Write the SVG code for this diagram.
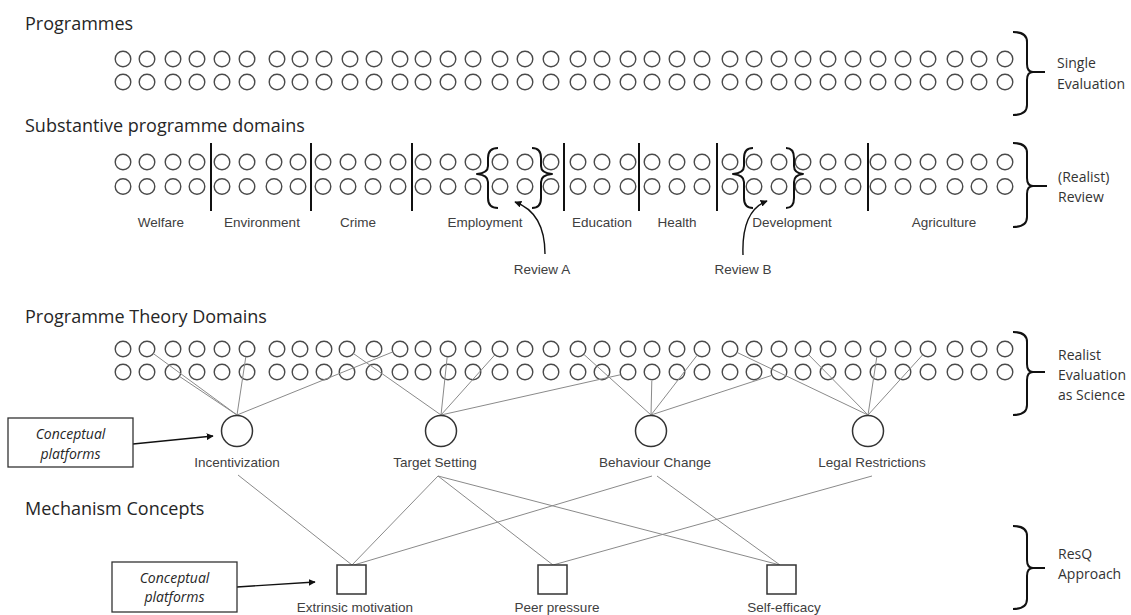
<svg xmlns="http://www.w3.org/2000/svg" xmlns:xlink="http://www.w3.org/1999/xlink" width="1131" height="615" viewBox="0 0 1131 615">
<style>
.bg{fill:#ffffff}
.c{fill:none;stroke:#4a4a4a;stroke-width:1.4}
.big{fill:#ffffff;stroke:#333333;stroke-width:1.5}
.sq{fill:#ffffff;stroke:#333333;stroke-width:1.5}
.div{stroke:#111111;stroke-width:2}
.br{fill:none;stroke:#111111;stroke-width:2;stroke-linejoin:round}
.ln{stroke:#8a8a8a;stroke-width:1;fill:none}
.arr{stroke:#111111;stroke-width:1.4;fill:none}
.title{font-family:"Open Sans","Noto Sans",sans-serif;font-size:18px;fill:#262626}
.side{font-family:"Open Sans","Noto Sans",sans-serif;font-size:14px;fill:#333333}
.lab{font-family:"Liberation Sans",Arial,sans-serif;font-size:13.5px;fill:#404040;text-anchor:middle}
.box{fill:#ffffff;stroke:#333333;stroke-width:1.3}
.boxt{font-family:"Open Sans","Noto Sans",sans-serif;font-size:14px;font-style:italic;fill:#262626;text-anchor:middle}
</style>
<defs>
<g id="p1"><circle class="c" cx="0" cy="0" r="7.8"/><circle class="c" cx="0" cy="23" r="7.8"/></g>
<g id="p2"><circle class="c" cx="0" cy="0" r="7.8"/><circle class="c" cx="0" cy="24.5" r="7.8"/></g>
<marker id="ah" viewBox="0 0 10 10" refX="9" refY="5" markerWidth="7" markerHeight="7" markerUnits="userSpaceOnUse" orient="auto"><path d="M0,0 L10,5 L0,10 z" fill="#111111"/></marker>
</defs>
<rect class="bg" x="0" y="0" width="1131" height="615"/>

<g id="titles">
<text class="title" x="25" y="30">Programmes</text>
<text class="title" x="25" y="132">Substantive programme domains</text>
<text class="title" x="25" y="323">Programme Theory Domains</text>
<text class="title" x="25" y="515">Mechanism Concepts</text>
</g>

<g id="programmes">
<use xlink:href="#p1" x="123" y="59"/><use xlink:href="#p1" x="147" y="59"/><use xlink:href="#p1" x="173" y="59"/><use xlink:href="#p1" x="197" y="59"/><use xlink:href="#p1" x="222" y="59"/><use xlink:href="#p1" x="247" y="59"/>
<use xlink:href="#p1" x="277" y="59"/><use xlink:href="#p1" x="300" y="59"/><use xlink:href="#p1" x="324" y="59"/><use xlink:href="#p1" x="350" y="59"/><use xlink:href="#p1" x="374" y="59"/><use xlink:href="#p1" x="400" y="59"/><use xlink:href="#p1" x="423" y="59"/><use xlink:href="#p1" x="448" y="59"/><use xlink:href="#p1" x="473" y="59"/>
<use xlink:href="#p1" x="500" y="59"/><use xlink:href="#p1" x="525" y="59"/><use xlink:href="#p1" x="551" y="59"/>
<use xlink:href="#p1" x="578" y="59"/><use xlink:href="#p1" x="602" y="59"/><use xlink:href="#p1" x="628" y="59"/><use xlink:href="#p1" x="652" y="59"/><use xlink:href="#p1" x="677" y="59"/><use xlink:href="#p1" x="702" y="59"/>
<use xlink:href="#p1" x="730" y="59"/><use xlink:href="#p1" x="754" y="59"/><use xlink:href="#p1" x="779" y="59"/><use xlink:href="#p1" x="803" y="59"/><use xlink:href="#p1" x="828" y="59"/><use xlink:href="#p1" x="853" y="59"/><use xlink:href="#p1" x="878" y="59"/><use xlink:href="#p1" x="903" y="59"/><use xlink:href="#p1" x="928" y="59"/>
<use xlink:href="#p1" x="955" y="59"/><use xlink:href="#p1" x="979" y="59"/><use xlink:href="#p1" x="1005" y="59"/>
<path class="br" d="M1013,32 Q1027,32 1027,42 V64 Q1027,72 1033,72 H1045 M1033,72 Q1027,72 1027,80 V105 Q1027,115 1013,115"/>
<text class="side" x="1057" y="68">Single</text>
<text class="side" x="1057" y="89">Evaluation</text>
</g>

<g id="domains">
<use xlink:href="#p2" x="123" y="162"/><use xlink:href="#p2" x="147" y="162"/><use xlink:href="#p2" x="173" y="162"/><use xlink:href="#p2" x="197" y="162"/><use xlink:href="#p2" x="222" y="162"/><use xlink:href="#p2" x="247" y="162"/>
<use xlink:href="#p2" x="274" y="162"/><use xlink:href="#p2" x="298" y="162"/><use xlink:href="#p2" x="323" y="162"/><use xlink:href="#p2" x="348" y="162"/><use xlink:href="#p2" x="373" y="162"/><use xlink:href="#p2" x="398" y="162"/><use xlink:href="#p2" x="423" y="162"/><use xlink:href="#p2" x="448" y="162"/><use xlink:href="#p2" x="473" y="162"/>
<use xlink:href="#p2" x="500" y="162"/><use xlink:href="#p2" x="525" y="162"/><use xlink:href="#p2" x="551" y="162"/>
<use xlink:href="#p2" x="578" y="162"/><use xlink:href="#p2" x="602" y="162"/><use xlink:href="#p2" x="628" y="162"/><use xlink:href="#p2" x="652" y="162"/><use xlink:href="#p2" x="677" y="162"/><use xlink:href="#p2" x="702" y="162"/>
<use xlink:href="#p2" x="730" y="162"/><use xlink:href="#p2" x="754" y="162"/><use xlink:href="#p2" x="779" y="162"/><use xlink:href="#p2" x="803" y="162"/><use xlink:href="#p2" x="828" y="162"/><use xlink:href="#p2" x="853" y="162"/><use xlink:href="#p2" x="878" y="162"/><use xlink:href="#p2" x="903" y="162"/><use xlink:href="#p2" x="928" y="162"/>
<use xlink:href="#p2" x="955" y="162"/><use xlink:href="#p2" x="979" y="162"/><use xlink:href="#p2" x="1005" y="162"/>
<line class="div" x1="211" y1="143" x2="211" y2="211"/>
<line class="div" x1="311" y1="143" x2="311" y2="211"/>
<line class="div" x1="412" y1="143" x2="412" y2="211"/>
<line class="div" x1="564" y1="143" x2="564" y2="211"/>
<line class="div" x1="639" y1="143" x2="639" y2="211"/>
<line class="div" x1="717" y1="143" x2="717" y2="211"/>
<line class="div" x1="868" y1="143" x2="868" y2="211"/>
<path class="br" d="M498,148 Q488,148 488,158 V166 Q488,173 477,174 Q488,175 488,182 V198 Q488,208 498,208"/>
<path class="br" d="M532,148 Q541,148 541,158 V166 Q541,173 552,174 Q541,175 541,182 V198 Q541,208 532,208"/>
<path class="br" d="M753,148 Q744,148 744,158 V166 Q744,173 733,174 Q744,175 744,182 V198 Q744,208 753,208"/>
<path class="br" d="M786,148 Q794,148 794,158 V166 Q794,173 803,174 Q794,175 794,182 V198 Q794,208 786,208"/>
<text class="lab" x="161" y="227">Welfare</text>
<text class="lab" x="262" y="227">Environment</text>
<text class="lab" x="358" y="227">Crime</text>
<text class="lab" x="485" y="227">Employment</text>
<text class="lab" x="602" y="227">Education</text>
<text class="lab" x="677" y="227">Health</text>
<text class="lab" x="792" y="227">Development</text>
<text class="lab" x="944" y="227">Agriculture</text>
<path class="br" d="M1013,143 Q1027,143 1027,153 V178 Q1027,186 1033,186 H1047 M1033,186 Q1027,186 1027,194 V217 Q1027,227 1013,227"/>
<text class="side" x="1058" y="182">(Realist)</text>
<text class="side" x="1058" y="202">Review</text>
</g>

<g id="review-a">
<path class="arr" d="M545,254 C545,230 537,210 515,202" marker-end="url(#ah)"/>
<text class="lab" x="542" y="274">Review A</text>
</g>
<g id="review-b">
<path class="arr" d="M743,255 C742,228 749,208 767,201" marker-end="url(#ah)"/>
<text class="lab" x="743" y="274">Review B</text>
</g>

<g id="theory-row">
<use xlink:href="#p1" x="123" y="349"/><use xlink:href="#p1" x="147" y="349"/><use xlink:href="#p1" x="173" y="349"/><use xlink:href="#p1" x="197" y="349"/><use xlink:href="#p1" x="222" y="349"/><use xlink:href="#p1" x="247" y="349"/>
<use xlink:href="#p1" x="277" y="349"/><use xlink:href="#p1" x="300" y="349"/><use xlink:href="#p1" x="324" y="349"/><use xlink:href="#p1" x="347" y="349"/><use xlink:href="#p1" x="374" y="349"/><use xlink:href="#p1" x="400" y="349"/><use xlink:href="#p1" x="423" y="349"/><use xlink:href="#p1" x="448" y="349"/><use xlink:href="#p1" x="473" y="349"/>
<use xlink:href="#p1" x="500" y="349"/><use xlink:href="#p1" x="525" y="349"/><use xlink:href="#p1" x="551" y="349"/>
<use xlink:href="#p1" x="578" y="349"/><use xlink:href="#p1" x="602" y="349"/><use xlink:href="#p1" x="628" y="349"/><use xlink:href="#p1" x="652" y="349"/><use xlink:href="#p1" x="677" y="349"/><use xlink:href="#p1" x="702" y="349"/>
<use xlink:href="#p1" x="730" y="349"/><use xlink:href="#p1" x="754" y="349"/><use xlink:href="#p1" x="779" y="349"/><use xlink:href="#p1" x="803" y="349"/><use xlink:href="#p1" x="828" y="349"/><use xlink:href="#p1" x="853" y="349"/><use xlink:href="#p1" x="878" y="349"/><use xlink:href="#p1" x="903" y="349"/><use xlink:href="#p1" x="928" y="349"/>
<use xlink:href="#p1" x="955" y="349"/><use xlink:href="#p1" x="979" y="349"/><use xlink:href="#p1" x="1005" y="349"/>
<path class="br" d="M1013,332 Q1027,332 1027,342 V364 Q1027,372 1033,372 H1045 M1033,372 Q1027,372 1027,380 V405 Q1027,415 1013,415"/>
<text class="side" x="1058" y="360">Realist</text>
<text class="side" x="1058" y="380">Evaluation</text>
<text class="side" x="1058" y="400">as Science</text>
</g>

<g id="connectors">
<line class="ln" x1="237" y1="415" x2="153.5" y2="353.7"/>
<line class="ln" x1="237" y1="415" x2="179.6" y2="376.5"/>
<line class="ln" x1="237" y1="415" x2="245.8" y2="356.9"/>
<line class="ln" x1="237" y1="415" x2="392.6" y2="352"/>
<line class="ln" x1="441" y1="415" x2="353.5" y2="353.6"/>
<line class="ln" x1="441" y1="415" x2="447.2" y2="357"/>
<line class="ln" x1="441" y1="415" x2="494.7" y2="355"/>
<line class="ln" x1="441" y1="415" x2="620.2" y2="374.8"/>
<line class="ln" x1="651" y1="415" x2="583.9" y2="354.4"/>
<line class="ln" x1="651" y1="415" x2="651.8" y2="381"/>
<line class="ln" x1="651" y1="415" x2="697.1" y2="355.3"/>
<line class="ln" x1="651" y1="415" x2="771.4" y2="375.5"/>
<line class="ln" x1="868" y1="415" x2="737.2" y2="352.5"/>
<line class="ln" x1="868" y1="415" x2="808.6" y2="354.7"/>
<line class="ln" x1="868" y1="415" x2="876.8" y2="356.9"/>
<line class="ln" x1="868" y1="415" x2="922.6" y2="354.9"/>
<line class="ln" x1="238" y1="475" x2="352" y2="565"/>
<line class="ln" x1="438" y1="476" x2="352" y2="565"/>
<line class="ln" x1="438" y1="476" x2="553" y2="565"/>
<line class="ln" x1="438" y1="476" x2="780" y2="565"/>
<line class="ln" x1="652" y1="476" x2="354" y2="565"/>
<line class="ln" x1="657" y1="476" x2="780" y2="565"/>
<line class="ln" x1="872" y1="476" x2="553" y2="565"/>
<line class="arr" x1="133" y1="444" x2="213" y2="436" marker-end="url(#ah)" stroke-width="1"/>
<line class="arr" x1="237" y1="587" x2="315" y2="582" marker-end="url(#ah)" stroke-width="1"/>
</g>

<g id="incentivization"><circle class="big" cx="237" cy="431" r="15.5"/><text class="lab" x="237" y="467">Incentivization</text></g>
<g id="target-setting"><circle class="big" cx="441" cy="431" r="15.5"/><text class="lab" x="435" y="467">Target Setting</text></g>
<g id="behaviour-change"><circle class="big" cx="651" cy="431" r="15.5"/><text class="lab" x="655" y="467">Behaviour Change</text></g>
<g id="legal-restrictions"><circle class="big" cx="868" cy="431" r="15.5"/><text class="lab" x="872" y="467">Legal Restrictions</text></g>

<g id="platform-1"><rect class="box" x="8" y="418" width="125" height="49"/><text class="boxt" x="70.5" y="439">Conceptual</text><text class="boxt" x="70.5" y="459">platforms</text></g>
<g id="platform-2"><rect class="box" x="112" y="562" width="125" height="50"/><text class="boxt" x="174.5" y="583">Conceptual</text><text class="boxt" x="174.5" y="602">platforms</text></g>

<g id="extrinsic-motivation"><rect class="sq" x="337" y="565" width="29" height="29"/><text class="lab" x="355" y="612">Extrinsic motivation</text></g>
<g id="peer-pressure"><rect class="sq" x="538" y="565" width="29" height="29"/><text class="lab" x="557" y="612">Peer pressure</text></g>
<g id="self-efficacy"><rect class="sq" x="767" y="565" width="29" height="29"/><text class="lab" x="784" y="612">Self-efficacy</text></g>

<g id="resq">
<path class="br" d="M1013,526 Q1027,526 1027,536 V560 Q1027,568 1033,568 H1045 M1033,568 Q1027,568 1027,576 V599 Q1027,609 1013,609"/>
<text class="side" x="1058" y="559">ResQ</text>
<text class="side" x="1058" y="579">Approach</text>
</g>
</svg>
